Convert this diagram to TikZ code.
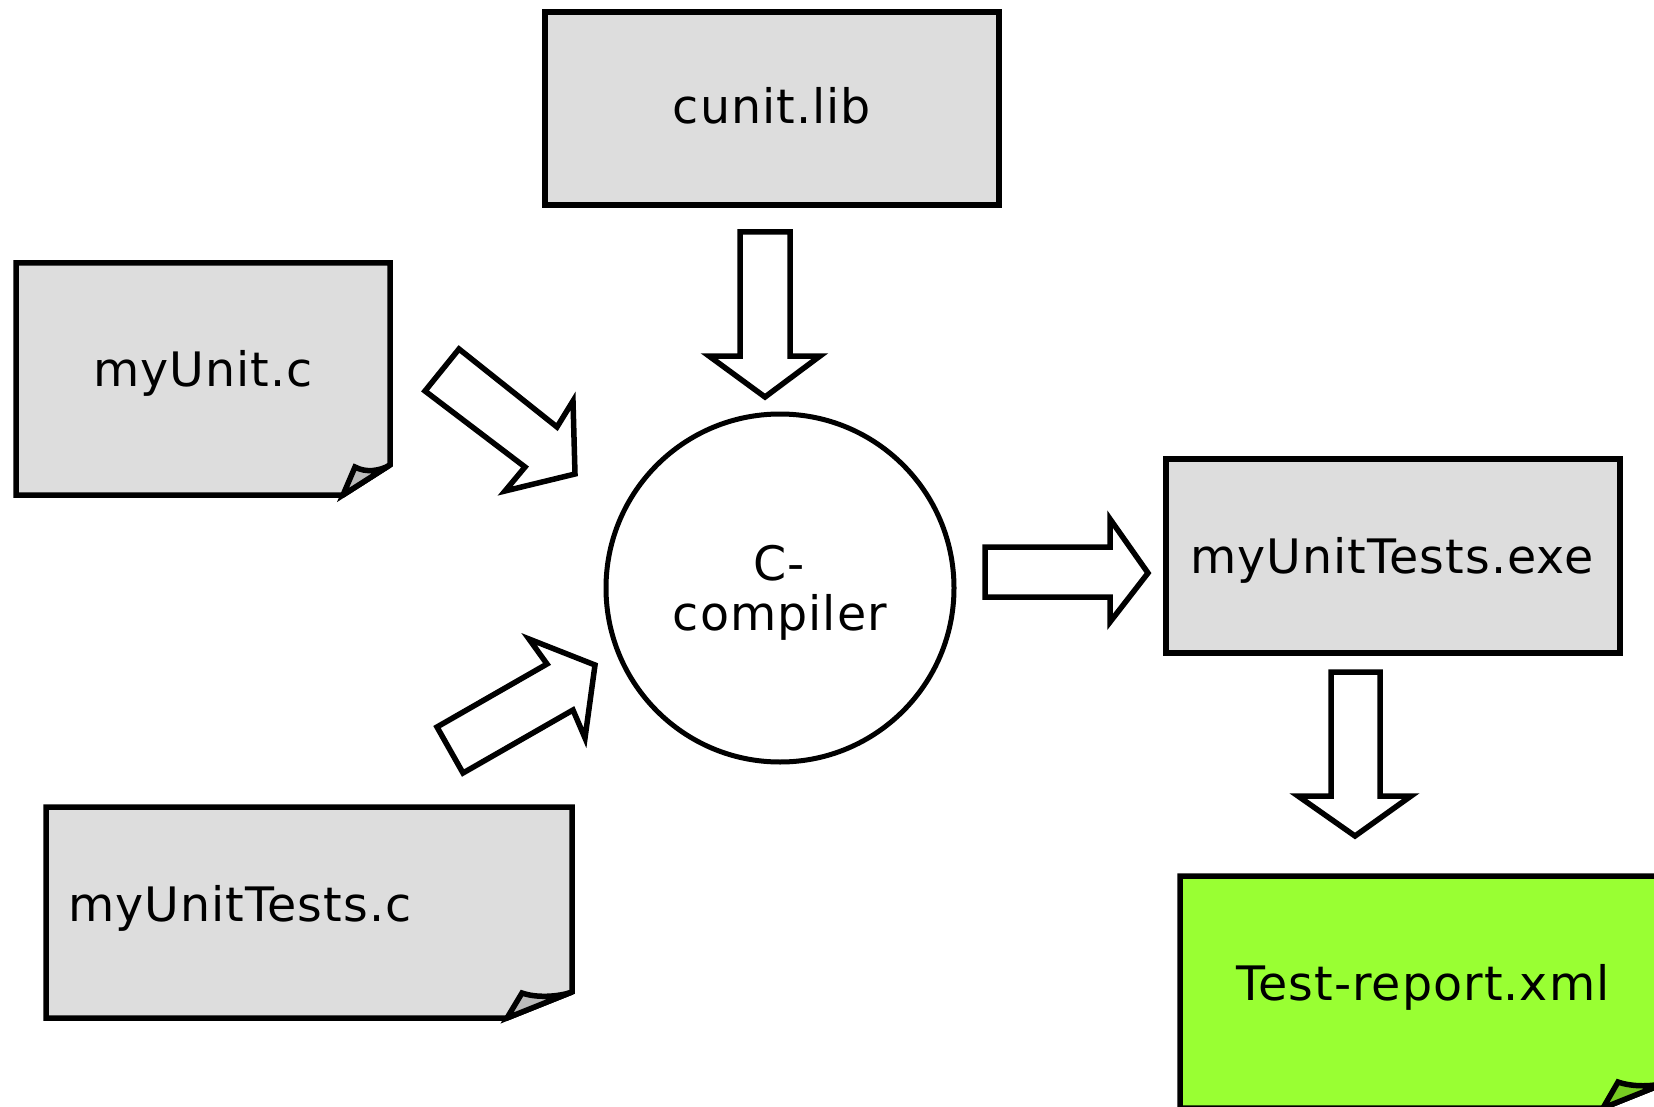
\documentclass[tikz,border=0pt]{standalone}
\usepackage{fontspec}
\setmainfont{DejaVu Sans}[LetterSpace=2.2]
\definecolor{filegray}{HTML}{DDDDDD}
\definecolor{foldgray}{HTML}{BBBBBB}
\definecolor{reportgreen}{HTML}{99FF33}
\definecolor{foldgreen}{HTML}{77CC22}
\tikzset{
  outline/.style={draw=black, line width=5.5pt, line join=miter},
  blockarrow/.style={draw=black, fill=white, line width=5.5pt, line join=miter},
  filetext/.style={font=\fontsize{47.5}{47.5}\selectfont, inner sep=0pt, anchor=base},
}
\begin{document}
\begin{tikzpicture}[x=1pt,y=-1pt]
\useasboundingbox (0,0) rectangle (1654,1107);
\fill[white] (0,0) rectangle (1654,1107);
\begin{scope}
\clip (0,0) rectangle (1654,1107);

% library box
\draw[outline, fill=filegray] (545,12) rectangle (999,205);
\node[filetext] (lib) at (772,124) {cunit.lib};

% source file with folded corner
\draw[outline, fill=filegray] (16,263) -- (390,263) -- (390,465) -- (343,495) -- (16,495) -- cycle;
\draw[outline, fill=foldgray] (343,495) -- (355,467) .. controls (366,473) and (380,471) .. (390,465) -- cycle;
\node[filetext] (unitc) at (203,386) {myUnit.c};

% test source file with folded corner
\draw[outline, fill=filegray] (46,807) -- (572,807) -- (572,992) -- (507,1018) -- (46,1018) -- cycle;
\draw[outline, fill=foldgray] (507,1018) -- (522,993) .. controls (536,998) and (558,997) .. (572,992) -- cycle;
\node[filetext, anchor=base west] (testsc) at (68,921) {myUnitTests.c};

% compiler
\node[circle, draw=black, line width=5pt, minimum size=348pt, inner sep=0pt] (cc) at (780,588) {};
\node[filetext] (cctop) at (779,580) {C-};
\node[filetext] (ccbot) at (780,630) {compiler};

% executable
\draw[outline, fill=filegray] (1166,459) rectangle (1620,653);
\node[filetext] (exe) at (1392,573) {myUnitTests.exe};

% report file with folded corner
\draw[outline, fill=reportgreen] (1180,876) -- (1668,876) -- (1668,1082) -- (1603,1108) -- (1180,1108) -- cycle;
\draw[outline, fill=foldgreen] (1603,1108) -- (1618,1082) .. controls (1632,1087) and (1654,1087) .. (1668,1082) -- cycle;
\node[filetext] (report) at (1423,1000) {Test-report.xml};

% block arrows
\draw[blockarrow] (740,232) -- (790,232) -- (790,356) -- (820,356) -- (765,397) -- (709,356) -- (740,356) -- cycle;
\draw[blockarrow] (425,391) -- (459,349) -- (557,427) -- (573,401) -- (575,474) -- (505,491) -- (525,467) -- cycle;
\draw[blockarrow] (437,727) -- (547,664) -- (529,639) -- (595,665) -- (585,738) -- (573,710) -- (463,773) -- cycle;
\draw[blockarrow] (985,547) -- (1110,547) -- (1110,519) -- (1148,573) -- (1110,622) -- (1110,597) -- (985,597) -- cycle;
\draw[blockarrow] (1331,672) -- (1380,672) -- (1380,796) -- (1411,796) -- (1355,836) -- (1298,796) -- (1331,796) -- cycle;
\end{scope}
\end{tikzpicture}
\end{document}
